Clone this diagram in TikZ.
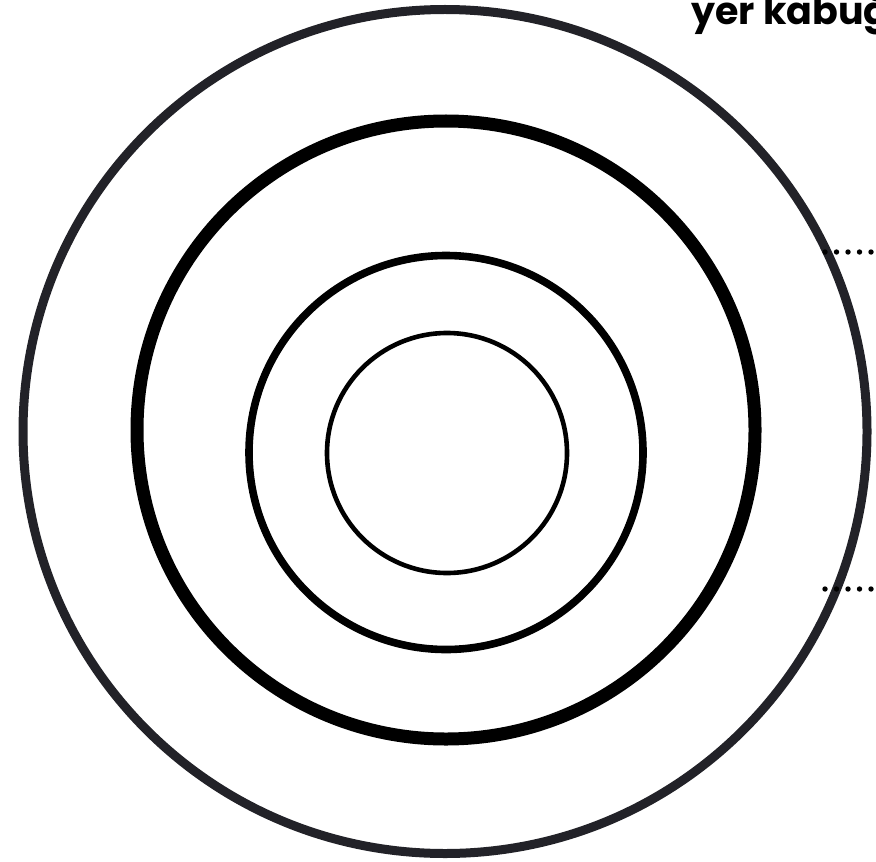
\documentclass[tikz,border=0pt]{standalone}
\usepackage{fontspec}
\newfontfamily\labelfont{Poppins}
\usepackage{xcolor}
\definecolor{crustgray}{RGB}{34,34,40}
\usepackage{tikz}
\begin{document}
\begin{tikzpicture}[
    x=0.5pt, y=-0.5pt,
    outerlayer/.style={draw=crustgray, line width=4.5pt},
    mantlelayer/.style={draw=black, line width=6.5pt},
    corelayer/.style={draw=black, line width=3.8pt},
    innerlayer/.style={draw=black, line width=2.3pt},
    leader/.style={draw=black, line width=2.7pt, line cap=round,
                   dash pattern=on 0pt off 5.75pt},
    layerlbl/.style={font=\labelfont\bfseries\fontsize{19}{19}\selectfont,
                     anchor=base west, inner sep=0pt},
  ]
    \useasboundingbox (0,0) rectangle (876,861);
    \clip (0,0) rectangle (876,861);

    % --- Layers ---
    \draw[outerlayer]  (445,431.5) circle (422);
    \draw[mantlelayer] (446,430)   circle (309);
    \draw[corelayer]   (446,452.5) circle (197);
    \draw[innerlayer]  (447,453)   circle (120);

    % --- Leader lines ---
    \coordinate (lead1) at (825,252);
    \coordinate (lead1e) at (900,252);
    \coordinate (lead2) at (825,589);
    \coordinate (lead2e) at (900,589);
    \draw[leader] (lead1) -- (lead1e);
    \draw[leader] (lead2) -- (lead2e);

    % --- Label ---
    \node[layerlbl] (crust) at (691,25) {yer kabuğu};
\end{tikzpicture}
\end{document}
